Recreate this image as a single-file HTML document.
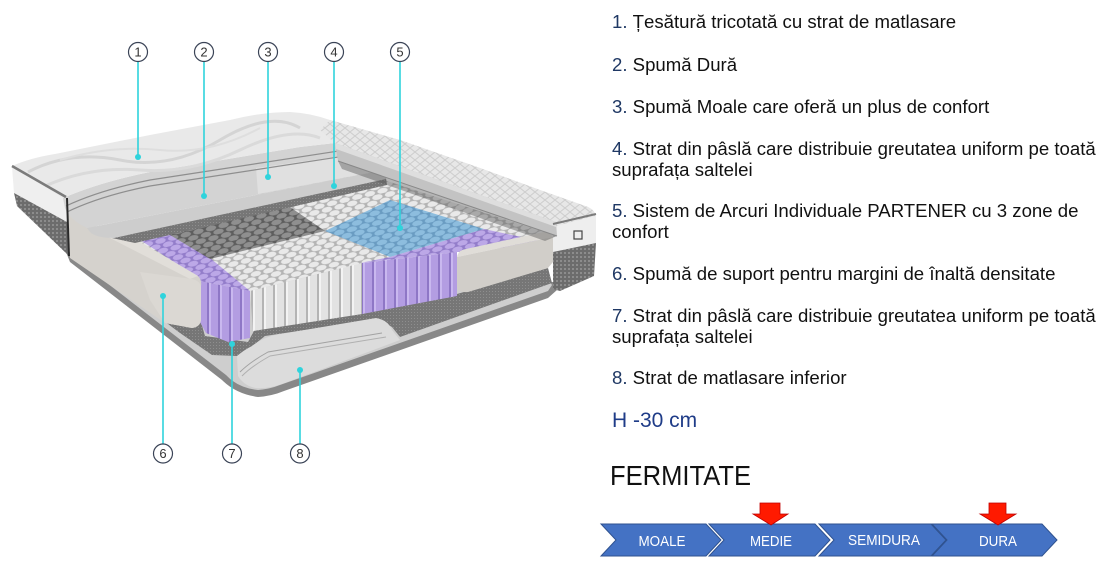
<!DOCTYPE html>
<html><head><meta charset="utf-8">
<style>
html,body{margin:0;padding:0;background:#fff;}
body{width:1120px;height:569px;overflow:hidden;}
svg{display:block;}
.t{font-family:"Liberation Sans",Arial,sans-serif;font-size:18.6px;fill:#111;}
.n{fill:#1f3864;}
.c{font-family:"Liberation Sans",Arial,sans-serif;font-size:13px;fill:#333;text-anchor:middle;}
.w{font-family:"Liberation Sans",Arial,sans-serif;font-size:15px;fill:#fff;text-anchor:middle;}
</style></head><body>
<svg width="1120" height="569" viewBox="0 0 1120 569" xmlns="http://www.w3.org/2000/svg">
<defs>
 <pattern id="pw" width="13" height="10" patternUnits="userSpaceOnUse" patternTransform="rotate(-14)">
  <rect width="13" height="10" fill="#b4b4b4"/>
  <ellipse cx="6.5" cy="2.6" rx="5.3" ry="2.7" fill="#e9e9e9"/>
  <ellipse cx="0" cy="7.6" rx="5.3" ry="2.7" fill="#e9e9e9"/>
  <ellipse cx="13" cy="7.6" rx="5.3" ry="2.7" fill="#e9e9e9"/>
 </pattern>
 <pattern id="pg" width="13" height="10" patternUnits="userSpaceOnUse" patternTransform="rotate(-14)">
  <rect width="13" height="10" fill="#5e5e5e"/>
  <ellipse cx="6.5" cy="2.6" rx="5.3" ry="2.7" fill="#8f8f8f"/>
  <ellipse cx="0" cy="7.6" rx="5.3" ry="2.7" fill="#8f8f8f"/>
  <ellipse cx="13" cy="7.6" rx="5.3" ry="2.7" fill="#8f8f8f"/>
 </pattern>
 <pattern id="pb" width="13" height="10" patternUnits="userSpaceOnUse" patternTransform="rotate(-14)">
  <rect width="13" height="10" fill="#6a9cc2"/>
  <ellipse cx="6.5" cy="2.6" rx="5.3" ry="2.7" fill="#8dbdde"/>
  <ellipse cx="0" cy="7.6" rx="5.3" ry="2.7" fill="#8dbdde"/>
  <ellipse cx="13" cy="7.6" rx="5.3" ry="2.7" fill="#8dbdde"/>
 </pattern>
 <pattern id="pp" width="13" height="10" patternUnits="userSpaceOnUse" patternTransform="rotate(-14)">
  <rect width="13" height="10" fill="#937dca"/>
  <ellipse cx="6.5" cy="2.6" rx="5.3" ry="2.7" fill="#bca8e7"/>
  <ellipse cx="0" cy="7.6" rx="5.3" ry="2.7" fill="#bca8e7"/>
  <ellipse cx="13" cy="7.6" rx="5.3" ry="2.7" fill="#bca8e7"/>
 </pattern>
 <pattern id="spw" width="11" height="80" patternUnits="userSpaceOnUse">
  <rect width="11" height="80" fill="#e2e2e2"/>
  <rect x="0" width="2" height="80" fill="#f3f3f3"/>
  <rect x="9" width="2" height="80" fill="#b4b4b4"/>
 </pattern>
 <pattern id="spp" width="11" height="80" patternUnits="userSpaceOnUse">
  <rect width="11" height="80" fill="#b39de2"/>
  <rect x="0" width="2" height="80" fill="#c9b8ef"/>
  <rect x="9" width="2" height="80" fill="#8e77c6"/>
 </pattern>
 <pattern id="knit" width="4" height="4" patternUnits="userSpaceOnUse">
  <rect width="4" height="4" fill="#6c6c6c"/>
  <rect width="2" height="2" fill="#8c8c8c"/>
 </pattern>
 <pattern id="felt" width="3" height="3" patternUnits="userSpaceOnUse">
  <rect width="3" height="3" fill="#767676"/>
  <rect width="1" height="1" fill="#8e8e8e"/>
 </pattern>
 <pattern id="dia" width="10" height="8" patternUnits="userSpaceOnUse">
  <rect width="10" height="8" fill="#e7e7e7"/>
  <path d="M0,4 L5,0 L10,4 L5,8 Z" fill="none" stroke="#cdcdcd" stroke-width="1"/>
 </pattern>
</defs>

<rect width="1120" height="569" fill="#ffffff"/>

<!-- base -->
<path d="M66,252 L70,262 L222,380 Q236,394 258,397 Q272,396 284,391 L548,298 L557,290 L553,282 Z" fill="#888"/>
<path d="M72,256 L226,375 Q238,388 258,390 Q270,389 280,385 L548,291 L552,285 L548,279 Z" fill="#cecece"/>

<!-- right side face -->
<path d="M553,224 L596,214 L596,243 L553,252 Z" fill="#eeeeee"/>
<path d="M553,252 L596,243 L594,276 L560,291 L553,289 Z" fill="url(#knit)"/>
<rect x="574" y="231" width="8" height="8" fill="none" stroke="#444" stroke-width="1.2"/>

<!-- left side face -->
<path d="M12,167 L66,197 L67,222 L14,193 Z" fill="#efefef"/>
<path d="M14,193 L67,222 L69,256 L17,206 Z" fill="url(#knit)"/>

<!-- felt bottom -->
<path d="M160,318 L201,322 L205,336 L248,342 L255,329 L362,314 L457,294 L548,268 L552,283 L400,337 L392,327 L378,319 L265,336 L250,348 L237,356 L212,355 L180,333 Z" fill="url(#felt)"/>
<!-- bottom layer 8 -->
<path d="M237,356 Q244,350 252,346 Q262,338 275,335 L376,318 Q388,320 392,330 L400,340 L282,384 Q268,389 256,388 Q244,386 238,376 Z" fill="#dcdcdc"/>
<path d="M240,372 Q250,362 268,352 L382,333" fill="none" stroke="#a2a2a2" stroke-width="1"/>
<path d="M242,376 Q252,366 270,356 L386,337" fill="none" stroke="#b0b0b0" stroke-width="1"/>

<!-- spring field tops -->
<path d="M133,240 L338,165 L556,236 L522,246 L457,252 L362,263 L250,291 L200,281 L197,277 Z" fill="url(#pw)"/>
<path d="M137,238 L168,228 L210,258 L250,291 L200,281 L197,277 Z" fill="url(#pp)"/>
<path d="M165,232 L287,205 L325,231 L210,259 Z" fill="url(#pg)"/>
<path d="M325,231 L390,200 L484,229 L390,257 Z" fill="url(#pb)"/>
<path d="M360,263 L390,257 L484,229 L545,242 L522,246 L457,252 Z" fill="url(#pp)"/>

<!-- spring front faces -->
<path d="M200,281 L250,291 L250,338 L228,342 L206,333 L200,322 Z" fill="url(#spp)"/>
<path d="M250,291 L362,263 L362,314 L253,331 Z" fill="url(#spw)"/>
<path d="M362,263 L457,252 L457,296 L362,314 Z" fill="url(#spp)"/>

<!-- left edge foam block -->
<path d="M68,202 L110,238 L135,239 L198,276 Q202,280 201,286 L201,320 Q200,327 192,328 L165,323 L70,258 Z" fill="#d5d2cd"/>
<path d="M110,238 L135,239 L198,276 L190,279 Z" fill="#e1ded9"/>
<path d="M140,272 L192,279 Q201,281 201,288 L201,320 Q200,327 192,328 L165,323 L150,300 Z" fill="#dbd8d3"/>

<!-- right edge foam block -->
<path d="M457,257 Q458,250 466,249 L548,231 L553,237 Z" fill="#e0ddd8"/>
<path d="M457,257 L553,237 L553,262 L548,268 L468,292 Q457,293 457,285 Z" fill="#d1cec9"/>

<!-- felt strip 4 -->
<path d="M112,238 L386,178 L387,185 L135,243 Z" fill="url(#felt)"/>

<!-- comfort layer -->
<path d="M87,228 L384,170 L386,179 L114,238 Q96,238 90,232 Z" fill="#cdcdcd"/>
<path d="M63,198 Q100,182 150,172 L300,147 L335,143 L384,146 L384,170 L87,228 Q70,220 65,208 Z" fill="#d3d3d3"/>
<path d="M256,168 L384,150 L384,170 L258,194 Z" fill="#e0e0e0"/>
<path d="M66,206 Q100,190 150,180 L384,144" fill="none" stroke="#8e8e8e" stroke-width="1.2"/>
<path d="M67,212 Q100,196 150,186 L384,150" fill="none" stroke="#8e8e8e" stroke-width="1.2"/>

<!-- quilted top -->
<path d="M12,166 Q30,158 55,154 L150,135 L230,120 Q262,112 290,112 Q310,113 330,120 L400,140 L480,168 L540,190 L588,207 Q596,211 595,216 L556,226 L553,222 L335,143 L300,147 L150,172 Q100,182 63,198 Z" fill="#e9e9e9"/>
<path d="M330,120 L400,140 L480,168 L540,190 L588,207 Q596,211 595,216 L556,226 L553,222 L335,143 L320,130 Z" fill="url(#dia)"/>
<path d="M28,172 Q70,150 120,160 T220,140 T300,128" fill="none" stroke="#d4d4d4" stroke-width="3"/>
<path d="M45,186 Q90,166 140,170 T240,150 T320,138" fill="none" stroke="#dadada" stroke-width="3"/>
<path d="M60,160 Q110,145 160,150 T260,128" fill="none" stroke="#dedede" stroke-width="2"/>

<!-- flap band -->
<path d="M335,143 L556,222 L557,236 L338,161 Z" fill="#c3c3c3"/>
<path d="M335,143 L556,222 L556,227 L336,149 Z" fill="#dedede"/>
<path d="M338,161 L557,236 L545,241 L342,169 Z" fill="#5a5a5a" opacity="0.45"/>
<path d="M338,161 L557,236" stroke="#888" stroke-width="1"/>

<!-- piping / cut lines -->
<path d="M12,166 L66,197" stroke="#7b7b7b" stroke-width="2.5"/>
<path d="M553,224 L596,214" stroke="#7b7b7b" stroke-width="2"/>
<path d="M67,198 L69,256" stroke="#2a2a2a" stroke-width="2"/>

<!-- leader lines -->
<g stroke="#2fd3dc" stroke-width="1.6" fill="none">
 <line x1="138" y1="62" x2="138" y2="157"/>
 <line x1="204" y1="62" x2="204" y2="196"/>
 <line x1="268" y1="62" x2="268" y2="177"/>
 <line x1="334" y1="62" x2="334" y2="186"/>
 <line x1="400" y1="62" x2="400" y2="228"/>
 <line x1="163" y1="444" x2="163" y2="296"/>
 <line x1="232" y1="444" x2="232" y2="344"/>
 <line x1="300" y1="444" x2="300" y2="370"/>
</g>
<g fill="#2fd3dc">
 <circle cx="138" cy="157" r="3"/>
 <circle cx="204" cy="196" r="3"/>
 <circle cx="268" cy="177" r="3"/>
 <circle cx="334" cy="186" r="3"/>
 <circle cx="400" cy="228" r="3"/>
 <circle cx="163" cy="296" r="3"/>
 <circle cx="232" cy="344" r="3"/>
 <circle cx="300" cy="370" r="3"/>
</g>
<g fill="#fff" stroke="#3a4356" stroke-width="1.2">
 <circle cx="138" cy="52" r="9.5"/>
 <circle cx="204" cy="52" r="9.5"/>
 <circle cx="268" cy="52" r="9.5"/>
 <circle cx="334" cy="52" r="9.5"/>
 <circle cx="400" cy="52" r="9.5"/>
 <circle cx="163" cy="453.5" r="9.5"/>
 <circle cx="232" cy="453.5" r="9.5"/>
 <circle cx="300" cy="453.5" r="9.5"/>
</g>
<text class="c" x="138" y="56.5">1</text>
<text class="c" x="204" y="56.5">2</text>
<text class="c" x="268" y="56.5">3</text>
<text class="c" x="334" y="56.5">4</text>
<text class="c" x="400" y="56.5">5</text>
<text class="c" x="163" y="458">6</text>
<text class="c" x="232" y="458">7</text>
<text class="c" x="300" y="458">8</text>

<!-- right text -->
<text class="t" x="612" y="28"><tspan class="n">1.</tspan> Țesătură tricotată cu strat de matlasare</text>
<text class="t" x="612" y="71"><tspan class="n">2.</tspan> Spumă Dură</text>
<text class="t" x="612" y="113"><tspan class="n">3.</tspan> Spumă Moale care oferă un plus de confort</text>
<text class="t" x="612" y="155"><tspan class="n">4.</tspan> Strat din pâslă care distribuie greutatea uniform pe toată</text>
<text class="t" x="612" y="176">suprafața saltelei</text>
<text class="t" x="612" y="217"><tspan class="n">5.</tspan> Sistem de Arcuri Individuale PARTENER cu 3 zone de</text>
<text class="t" x="612" y="238">confort</text>
<text class="t" x="612" y="280"><tspan class="n">6.</tspan> Spumă de suport pentru margini de înaltă densitate</text>
<text class="t" x="612" y="322"><tspan class="n">7.</tspan> Strat din pâslă care distribuie greutatea uniform pe toată</text>
<text class="t" x="612" y="343">suprafața saltelei</text>
<text class="t" x="612" y="384"><tspan class="n">8.</tspan> Strat de matlasare inferior</text>
<text x="612" y="427" font-family="Liberation Sans, Arial, sans-serif" font-size="21" fill="#1f3c88">H -30 cm</text>

<text x="610" y="485" font-family="Liberation Sans, Arial, sans-serif" font-size="28" fill="#111" textLength="141" lengthAdjust="spacingAndGlyphs">FERMITATE</text>

<!-- chevrons -->
<g fill="#4472c4" stroke="#2f528f" stroke-width="1">
 <path d="M601,524 L706,524 L721,540 L706,556 L601,556 L616,540 Z"/>
 <path d="M709,524 L815,524 L830,540 L815,556 L709,556 L724,540 Z"/>
 <path d="M819,524 L931,524 L946,540 L931,556 L819,556 L834,540 Z"/>
 <path d="M932,524 L1042,524 L1057,540 L1042,556 L932,556 L947,540 Z"/>
</g>
<text class="w" x="662" y="546" textLength="47" lengthAdjust="spacingAndGlyphs">MOALE</text>
<text class="w" x="771" y="546" textLength="42" lengthAdjust="spacingAndGlyphs">MEDIE</text>
<text class="w" x="884" y="545" textLength="72" lengthAdjust="spacingAndGlyphs">SEMIDURA</text>
<text class="w" x="998" y="546" textLength="38" lengthAdjust="spacingAndGlyphs">DURA</text>

<!-- red arrows -->
<g fill="#ff1a00" stroke="#c00000" stroke-width="0.8">
 <path d="M760,503 L780,503 L780,514 L788,514 L771,525 L753,514 L760,514 Z"/>
 <path d="M989,503 L1006,503 L1006,514 L1016,514 L998,525 L980,514 L989,514 Z"/>
</g>
</svg>
</body></html>
